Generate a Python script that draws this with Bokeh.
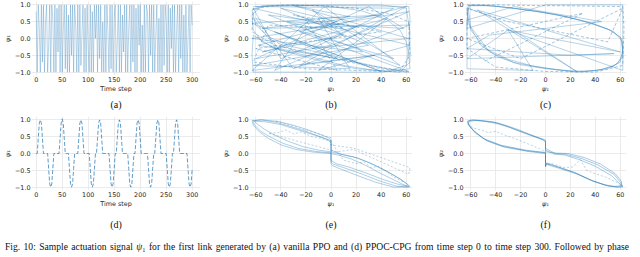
from bokeh.plotting import figure
from bokeh.layouts import column, row
from bokeh.models import Title, Div, FixedTicker
from bokeh.embed import file_html
from bokeh.resources import INLINE

# ---------------- data ----------------
# (a) vanilla PPO: psi_1, sampled every 2 time steps
a_vals = [
    0.8, -1.0, 1.0, 0.3, -1.0, 1.0, -0.7, 1.0, -1.0, 0.5,
    1.0, -1.0, -0.2, 1.0, -1.0, 1.0, 0.6, -1.0, 1.0, -1.0,
    0.9, -0.4, 1.0, -1.0, 1.0, -1.0, 0.2, 1.0, -0.9, 1.0,
    -1.0, 0.7, -1.0, 1.0, -0.5, 1.0, -1.0, 1.0, 0.4, -1.0,
    1.0, -1.0, 1.0, -0.8, 0.1, 1.0, -1.0, 0.9, -1.0, 1.0,
    -0.3, -1.0, 1.0, -1.0, 0.8, -1.0, 1.0, 0.0, 1.0, -1.0,
    1.0, -0.6, 1.0, -1.0, 0.5, -1.0, 1.0, -1.0, 1.0, 0.2,
    -1.0, 1.0, -0.9, 1.0, -1.0, 0.6, 1.0, -1.0, -0.1, 1.0,
    -1.0, 1.0, -1.0, 0.7, -0.4, 1.0, -1.0, 1.0, -1.0, 0.3,
    1.0, -1.0, 1.0, -0.7, 1.0, -1.0, 0.9, -1.0, 1.0, -0.2,
    1.0, -1.0, 0.4, -1.0, 1.0, -1.0, 1.0, 0.8, -1.0, 1.0,
    -0.5, 1.0, -1.0, 1.0, -1.0, 0.1, 1.0, -1.0, 0.6, -1.0,
    1.0, -1.0, 1.0, -0.8, 1.0, 0.5, -1.0, 1.0, -1.0, 0.9,
    -0.3, 1.0, -1.0, 1.0, -1.0, 0.2, 1.0, -1.0, 1.0, -0.6,
    1.0, -1.0, 0.7, -1.0, 1.0, -1.0, 0.0, 1.0, -1.0, 1.0,
    0.4]
a_steps = [2 * i for i in range(len(a_vals))]

# (d) PPOC-CPG: psi_1, sampled every 2 time steps
d_vals = [
    0, 0, 0.45, 0.9, 1.0, 0.9, 0.45, 0, 0, 0,
    0, 0, -0.45, -0.9, -1.0, -0.9, -0.45, 0, 0, 0,
    0, 0, 0, 0.45, 0.9, 1.03, 0.9, 0.45, 0, 0,
    0, 0, -0.45, -0.9, -1.0, -0.9, -0.45, 0, 0, 0,
    0, 0.45, 0.9, 1.0, 0.9, 0.45, 0, 0, 0, 0,
    0, 0, -0.45, -0.9, -1.0, -0.9, -0.45, 0, 0, 0.45,
    0.9, 1.0, 0.9, 0.45, 0, 0, 0, 0, 0, 0,
    0, -0.45, -0.9, -1.0, -0.9, -0.45, 0, 0, 0.45, 0.9,
    1.0, 0.9, 0.45, 0, 0, 0, 0, 0, 0, -0.45,
    -0.9, -1.0, -0.9, -0.45, 0, 0, 0.45, 0.9, 1.0, 0.9,
    0.45, 0, 0, 0, 0, 0, 0, 0, -0.45, -0.9,
    -1.0, -0.9, -0.45, 0, 0, 0.45, 0.9, 1.0, 0.9, 0.45,
    0, 0, 0, 0, 0, 0, -0.45, -0.9, -1.0, -0.9,
    -0.45, 0, 0, 0.45, 0.9, 1.0, 0.9, 0.45, 0, 0,
    0, 0, 0, 0, 0, 0, -0.45, -0.9, -1.0, -0.9,
    -0.45]
d_steps = [2 * i for i in range(len(d_vals))]

# (b) vanilla PPO phase portrait (psi_1 vs psi_2)
b_x = [-62, -20, 30, 62, 63, 62, 60, 45, 20, 0, -20, -40, -55, -62, -63, -55, -30, 0, 25, 45,
       55, 60, 62, 63, 40, 0, -40, -62, -63, -62, -45, -20, 10, 35, 55, 63, 63, 60, 40, -10,
       -50, -63, -60, -50, -30, -5, 20, 45, 62, -25, 5, -40, 30, -62, 15, -10, 40, -55, 63, -30,
       -60, 50, -15, 25, -63, 62, -45, -20, 0, -60, 30, 58, -35, 10, -55, 45, -10, 63, -62, -40,
       20, -50, 55, -5, -63, 35, -25, 60, -58, 5, -45, 40, -63, 15, -30, 62, -15, 50, -60]
b_y = [0.95, 0.98, 0.97, 0.95, 0.6, -0.3, -0.8, -0.97, -0.9, -0.75, -0.55, -0.35, -0.1, 0.25, 0.7, 0.98, 1.0, 0.95, 0.82, 0.55,
       0.25, -0.1, -0.5, -0.9, -1.0, -1.0, -1.0, -1.0, -0.5, 0.1, -0.3, -0.5, -0.8, -0.95, -1.0, -0.7, 0.2, 0.9, 1.0, 1.0,
       0.98, 0.85, 0.4, 0.05, -0.25, -0.45, -0.7, -0.9, -0.98, 0.2, 0.5, 0.9, -0.2, -0.8, -0.9, 0.6, 0.7, 0.3, 0.4, -0.9,
       0.6, -0.6, 0.85, -0.4, 0.0, 0.8, -0.95, 0.3, -0.2, -0.6, 0.95, 0.3, 0.5, 0.1, -0.4, 0.6, -0.95, -0.2, 0.9, -0.6,
       0.35, 0.7, -0.8, 0.95, -0.95, -0.5, -0.8, 0.95, -0.2, -0.6, 0.2, -0.98, 0.45, 0.65, 0.98, 0.0, -0.3, 0.9, 0.95]
bd_x = [-62, -50, -30, 0, 30, 55, 63, 62, 45, 20, -10, -40, -62, -63, -45, -15, 15, 40, 62, -20,
        -62, -50, 10, -30, 40, -60, 5, -20]
bd_y = [0.6, 0.0, -0.35, -0.55, -0.8, -0.95, -0.5, 0.5, 0.75, 0.9, 0.98, 0.99, 0.9, 0.2, -0.2, -0.45, -0.7, -0.9, -1.0, -0.9,
        -0.7, 0.4, 0.3, 0.7, 0.2, -0.3, -0.95, 0.55]

# (c) phase portrait
c_x = [-63, -62, -52, -38, -20, 0, 20, 40, 55, 62, 62, 55, 40, 20, 0, -20, -40, -60,
       -63, -60, -48, -30, -10, 10, 30, 50, 60, 62, 60, 50, 30, 10, -10, -30, -50, -62,
       -63, 0, 62, 62, -30, -10, -63, -63, -25, 45, -45, -63, 20, 55, -63, -30, 60, -55, 25, -40,
       -62, -60, -45, -25, 0, 25, 45, 58, 62, 61, 52, 35, 15, -5, -25, -45, -62]
c_y = [0.95, 0.45, -0.2, -0.55, -0.78, -0.9, -0.97, -0.96, -0.82, -0.55, -0.1, 0.2, 0.42, 0.62, 0.76, 0.87, 0.96, 1.0,
       0.8, 0.25, -0.3, -0.62, -0.82, -0.93, -0.99, -0.9, -0.7, -0.3, 0.05, 0.28, 0.52, 0.7, 0.82, 0.92, 0.99, 0.98,
       0.3, 1.0, 1.0, -0.95, 0.25, -0.95, -0.9, 0.55, 0.95, 0.5, 0.1, -0.3, -0.5, -0.45, -0.6, 0.25, -0.4, 0.85, -0.98, 0.6,
       0.9, 0.35, -0.4, -0.72, -0.88, -1.0, -0.93, -0.75, -0.45, 0.0, 0.25, 0.48, 0.66, 0.8, 0.9, 0.98, 0.97]
cd_x = [-63, -40, -10, 20, 62, 63, 62, 40, 0, -40, -63, -63, -30, 10, 50, 62, -20, -63, 30, -50]
cd_y = [1.0, 1.0, 0.98, 0.97, 0.95, 0.3, -0.8, -1.0, -0.98, -0.85, -0.3, 0.9, 0.5, 0.2, -0.1, 0.9, -0.6, 0.0, 0.75, -0.7]

# (e) PPOC-CPG phase portrait
e_x = [0, -12, -26, -38, -48, -56, -61, -62, -56, -44, -32, -20, -10, -2, 0, 0,
       8, 18, 31, 44, 55, 61, 62, 52, 39, 24, 10, 2, 0, 0,
       0, -14, -28, -40, -50, -57, -62, -63, -54, -42, -30, -18, -8, -1, 0, 0,
       10, 22, 34, 46, 56, 62, 63, 50, 36, 20, 7, 1, 0, 0,
       0, -10, -22, -34, -45, -53, -59, -61, -52, -40, -28, -16, -6, 0, 0, 0,
       6, 16, 28, 40, 51, 58, 61, 54, 42, 28, 14, 4, 0, 0]
e_y = [0.02, 0.06, 0.15, 0.3, 0.48, 0.66, 0.85, 0.97, 1.0, 0.93, 0.8, 0.66, 0.52, 0.4, 0.3, 0.1,
       -0.02, -0.1, -0.28, -0.52, -0.75, -0.92, -1.0, -0.97, -0.82, -0.6, -0.42, -0.32, -0.25, -0.05,
       0.0, 0.04, 0.12, 0.26, 0.45, 0.64, 0.84, 0.98, 1.0, 0.95, 0.84, 0.7, 0.56, 0.45, 0.38, 0.05,
       -0.04, -0.14, -0.33, -0.56, -0.78, -0.94, -0.99, -1.0, -0.86, -0.64, -0.45, -0.36, -0.3, 0.0,
       0.05, 0.1, 0.2, 0.36, 0.55, 0.72, 0.88, 0.96, 0.94, 0.86, 0.72, 0.58, 0.46, 0.38, 0.2, 0.0,
       -0.05, -0.16, -0.36, -0.6, -0.8, -0.93, -0.97, -0.92, -0.78, -0.58, -0.4, -0.3, -0.2, -0.02]
ed_x = [-44, 0, 0, 18, 63, 62, 18, 5, -50, -42, -36, -30, -24, -15, -8, 0,
        10, 20, 26, 32, 38, 45, 50, 58]
ed_y = [0.97, 0.47, 0.25, 0.16, -0.42, -0.62, 0.12, 0.05, 0.6, 0.62, 0.7, 0.58, 0.64, 0.5, 0.45, 0.35,
        -0.2, -0.3, -0.25, -0.42, -0.38, -0.55, -0.7, -0.85]

# (f) phase portrait
f_x = [0, -15, -35, -48, -57, -62, -62, -58, -50, -40, -30, -20, -10, -2, 0, 0,
       8, 16, 29, 42, 55, 60, 62, 58, 50, 37, 24, 9, 1, 0, 0,
       0, -14, -33, -46, -56, -61, -63, -60, -52, -42, -32, -22, -12, -3, 0, 0,
       7, 15, 27, 40, 53, 59, 62, 60, 51, 39, 26, 11, 2, 0, 0,
       0, -16, -36, -50, -58, -62, -61, -56, -48, -38, -28, -18, -9, -2, 0, 0,
       9, 18, 31, 44, 56, 61, 61, 56, 47, 35, 22, 8, 1, 0, 0]
f_y = [0.02, 0.08, 0.22, 0.4, 0.65, 0.85, 0.97, 1.0, 0.97, 0.92, 0.8, 0.66, 0.52, 0.4, 0.36, 0.15,
       0.0, -0.02, -0.15, -0.34, -0.62, -0.85, -0.97, -1.0, -0.96, -0.8, -0.57, -0.39, -0.3, -0.4, -0.05,
       0.0, 0.06, 0.19, 0.36, 0.6, 0.82, 0.95, 0.99, 0.98, 0.94, 0.84, 0.71, 0.56, 0.44, 0.4, 0.1,
       -0.02, -0.04, -0.18, -0.38, -0.66, -0.88, -0.99, -1.0, -0.97, -0.84, -0.62, -0.44, -0.34, -0.3, 0.0,
       0.03, 0.1, 0.25, 0.45, 0.7, 0.88, 0.96, 0.98, 0.95, 0.88, 0.76, 0.62, 0.5, 0.42, 0.33, 0.05,
       0.01, 0.0, -0.12, -0.31, -0.6, -0.83, -0.95, -0.98, -0.93, -0.77, -0.55, -0.37, -0.28, -0.38, -0.02]
fd_x = [-62, -58, -52, -46, -40, -33, -25, -15, -5, 0, 0, 5, 15, 22, 28, 33, 40, 48, 55, 60]
fd_y = [0.9, 0.76, 0.7, 0.62, 0.66, 0.55, 0.45, 0.3, 0.15, 0.05, -0.35, -0.3, -0.42, -0.4, -0.18, -0.5, -0.6, -0.7, -0.82, -0.92]

# ticks
time_ticks = [0, 50, 100, 150, 200, 250, 300]
phase_ticks = [-60, -40, -20, 0, 20, 40, 60]
y_ticks = [-1.0, -0.5, 0.0, 0.5, 1.0]
captions = ["(a)", "(b)", "(c)", "(d)", "(e)", "(f)"]
caption_text = ("Fig. 10: Sample actuation signal <i>\u03c8</i>\u2081 for the first link generated by "
                "(a) vanilla PPO and (d) PPOC-CPG from time step 0 to time step 300. Followed by phase")

LINE = "#1f77b4"
TXT = "#262626"
FS = "6.4px"


def fmt(v):
    s = f"{v:.1f}" if isinstance(v, float) else f"{v}"
    return s.replace("-", "\u2212")


def make_fig(fw, fh, mbl, mbr, mbt, mbb, xr, xticks, xlabel, ylabel, cap, cap_off, cap_so):
    p = figure(frame_width=fw, frame_height=fh, x_range=xr, y_range=(-1.1, 1.1),
               output_backend="svg", toolbar_location=None,
               min_border_left=mbl, min_border_right=mbr,
               min_border_top=mbt, min_border_bottom=mbb)
    p.outline_line_color = None
    p.background_fill_color = "white"
    p.border_fill_color = "white"
    p.xaxis.ticker = FixedTicker(ticks=xticks)
    p.yaxis.ticker = FixedTicker(ticks=y_ticks)
    p.xaxis.major_label_overrides = {t: fmt(t) for t in xticks}
    p.yaxis.major_label_overrides = {t: fmt(t) for t in y_ticks}
    for ax in (p.xaxis[0], p.yaxis[0]):
        ax.major_tick_line_color = None
        ax.minor_tick_line_color = None
        ax.major_tick_out = 0
        ax.major_tick_in = 0
        ax.axis_line_color = None
        ax.major_label_text_font = "DejaVu Sans"
        ax.major_label_text_font_size = FS
        ax.major_label_text_color = TXT
        ax.major_label_standoff = 1
        ax.axis_label_standoff = 0
        ax.axis_label_text_font = "DejaVu Sans"
        ax.axis_label_text_font_size = FS
        ax.axis_label_text_color = TXT
        ax.axis_label_text_font_style = "normal"
    p.xaxis.axis_label = xlabel
    p.yaxis.axis_label = ylabel
    p.yaxis.axis_label_text_font_style = "italic"
    if xlabel != "Time step":
        p.xaxis.axis_label_text_font_style = "italic"
    p.grid.grid_line_color = "#e6e6e6"
    p.grid.grid_line_width = 0.8
    t = Title(text=cap, align="center", text_font="Liberation Serif", text_font_size="10px",
              text_font_style="normal", text_color="#111111", offset=cap_off, standoff=cap_so)
    p.add_layout(t, "below")
    return p


P1 = "\u03c8\u2081"
P2 = "\u03c8\u2082"

# row 1
fa = make_fig(169, 74, 27, 18, 1, 38, (-9, 316), time_ticks, "Time step", P1, captions[0], -10, 3)
fa.line(a_steps, a_vals, line_color=LINE, line_width=0.6, line_alpha=0.5)

fb = make_fig(163, 74, 30, 21, 1, 38, (-65, 65), phase_ticks, P1, P2, captions[1], -15, 3)
fb.line(b_x, b_y, line_color=LINE, line_width=0.6, line_alpha=0.55)
fb.line(bd_x, bd_y, line_color=LINE, line_width=0.7, line_alpha=0.6, line_dash="3 2")

fc = make_fig(162, 74, 31, 3, 1, 38, (-65, 65), phase_ticks, P1, P2, captions[2], -12, 3)
fc.line(c_x, c_y, line_color=LINE, line_width=0.6, line_alpha=0.55)
fc.line(cd_x, cd_y, line_color=LINE, line_width=0.7, line_alpha=0.6, line_dash="3 2")

# row 2
fd = make_fig(169, 74, 27, 18, 3, 40, (-9, 316), time_ticks, "Time step", P1, captions[3], -10, 12)
fd.line(d_steps, d_vals, line_color=LINE, line_width=0.9, line_alpha=0.8, line_dash="4 2")

fe = make_fig(163, 74, 30, 21, 3, 40, (-65, 65), phase_ticks, P1, P2, captions[4], -15, 12)
fe.line(e_x, e_y, line_color=LINE, line_width=0.6, line_alpha=0.6)
fe.line(ed_x, ed_y, line_color=LINE, line_width=0.6, line_alpha=0.55, line_dash="2 2")

ff = make_fig(162, 74, 31, 3, 3, 40, (-65, 65), phase_ticks, P1, P2, captions[5], -12, 12)
ff.line(f_x, f_y, line_color=LINE, line_width=0.6, line_alpha=0.65)
ff.line(fd_x, fd_y, line_color=LINE, line_width=0.6, line_alpha=0.55, line_dash="2 2")

cap = Div(text=('<div style="font-family:\'Liberation Serif\',serif;font-size:9.6px;line-height:10px;'
                'white-space:nowrap;text-align:justify;text-align-last:justify;width:624px;height:10px;'
                'overflow:hidden;color:#111111">' + caption_text + '</div>'),
          width=624, height=10)

layout = column(row(fa, fb, fc), row(fd, fe, ff), cap)
open("out.html", "w").write(file_html(layout, INLINE))
